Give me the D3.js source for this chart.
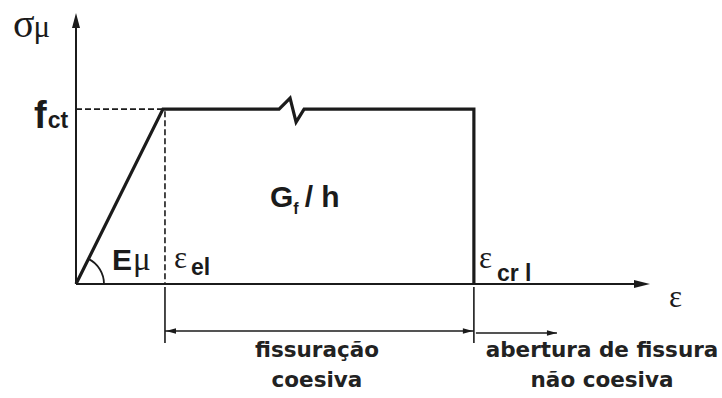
<!DOCTYPE html>
<html>
<head>
<meta charset="utf-8">
<script src="https://cdn.jsdelivr.net/npm/d3@7"></script>
<style>
  html, body { margin: 0; padding: 0; background: #fff; }
  svg { display: block; }
</style>
</head>
<body>
<svg id="chart" width="722" height="398"></svg>
<script>
// Bilinear cohesive softening law (normalised units: strain / ε_el, stress / f_ct)
const curveStrain = [0, 1, 4.575, 4.575];
const curveStress = [0, 1, 1, 0];
const strainMarks = ["el", "cr l"];          // subscripts of the marked strains
const strainMarkValues = [1, 4.575];
const breakStrain = 2.45;                     // position of the break symbol on the plateau
const dimensionEnds = [1, 4.575, 5.53];       // fissuração coesiva | abertura de fissura
const zoneLabels = [["fissuração", "coesiva"], ["abertura de fissura", "não coesiva"]];
const axisMax = { strain: 6.6, stress: 1.55 };

const ink = "#1b1b1b";
const svg = d3.select("#chart");

const x = d3.scaleLinear().domain([0, axisMax.strain]).range([76, 650]);
const y = d3.scaleLinear().domain([0, axisMax.stress]).range([284, 13]);

const g = svg.append("g");

// ---- axes with arrowheads
g.append("line").attr("x1", x(0)).attr("y1", y(0)).attr("x2", x(0)).attr("y2", y(axisMax.stress) + 10)
  .attr("stroke", ink).attr("stroke-width", 2);
g.append("line").attr("x1", x(0)).attr("y1", y(0)).attr("x2", x(axisMax.strain) - 10).attr("y2", y(0))
  .attr("stroke", ink).attr("stroke-width", 2);

function arrowHead(tx, ty, dir, len, half) {
  // dir: unit vector pointing towards the tip
  const bx = tx - dir[0] * len, by = ty - dir[1] * len;
  const px = -dir[1] * half, py = dir[0] * half;
  return `M${tx},${ty}L${bx + px},${by + py}L${bx - px},${by - py}Z`;
}
g.append("path").attr("d", arrowHead(x(0), y(axisMax.stress), [0, -1], 15, 4)).attr("fill", ink);
g.append("path").attr("d", arrowHead(x(axisMax.strain), y(0), [1, 0], 16, 4)).attr("fill", ink);

// ---- dashed guides to f_ct and ε_el
const dash = "6,3";
g.append("line").attr("x1", x(0)).attr("y1", y(1)).attr("x2", x(strainMarkValues[0])).attr("y2", y(1))
  .attr("stroke", ink).attr("stroke-width", 1.6).attr("stroke-dasharray", dash);
g.append("line").attr("x1", x(strainMarkValues[0]) + 2).attr("y1", y(1) + 2).attr("x2", x(strainMarkValues[0]) + 2).attr("y2", y(0))
  .attr("stroke", ink).attr("stroke-width", 1.6).attr("stroke-dasharray", dash);

// ---- the constitutive curve, with a break mark on the plateau
const bx = x(breakStrain), by = y(1);
const pts = curveStrain.map((s, i) => [x(s), y(curveStress[i])]);
const p = d3.path();
p.moveTo(pts[0][0], pts[0][1]);
p.lineTo(pts[1][0], pts[1][1]);
p.lineTo(bx - 10, by);
p.lineTo(bx + 1, by - 11);
p.lineTo(bx + 7, by + 13);
p.lineTo(bx + 15, by);
p.lineTo(pts[2][0], pts[2][1]);
p.lineTo(pts[3][0], pts[3][1]);
g.append("path").attr("d", p.toString()).attr("fill", "none").attr("stroke", ink)
  .attr("stroke-width", 3.2).attr("stroke-linejoin", "miter");

// ---- angle arc for the elastic modulus
const ang = Math.atan2(pts[1][1] - pts[0][1], pts[1][0] - pts[0][0]);
const arc = d3.path();
arc.moveTo(x(0) + 28, y(0));
arc.arc(x(0), y(0), 28, 0, ang, true);
g.append("path").attr("d", arc.toString()).attr("fill", "none").attr("stroke", ink).attr("stroke-width", 1.8);

// ---- dimension lines below the axis
const dimY = 331;
[x(strainMarkValues[0]) + 2, x(strainMarkValues[1])].forEach(px => {
  g.append("line").attr("x1", px).attr("y1", y(0) + 3).attr("x2", px).attr("y2", 343)
    .attr("stroke", ink).attr("stroke-width", 1.6);
});
const d0 = x(dimensionEnds[0]) + 2, d1 = x(dimensionEnds[1]), d2 = x(dimensionEnds[2]);
g.append("line").attr("x1", d0).attr("y1", dimY).attr("x2", d1).attr("y2", dimY).attr("stroke", ink).attr("stroke-width", 1.5);
g.append("path").attr("d", arrowHead(d0 + 1, dimY, [-1, 0], 10, 2.8)).attr("fill", ink);
g.append("path").attr("d", arrowHead(d1 - 1, dimY, [1, 0], 10, 2.8)).attr("fill", ink);
g.append("line").attr("x1", d1 + 2).attr("y1", dimY + 2).attr("x2", d2).attr("y2", dimY + 2).attr("stroke", ink).attr("stroke-width", 1.5);
g.append("path").attr("d", arrowHead(d2, dimY + 2, [1, 0], 10, 2.8)).attr("fill", ink);

// ---- labels
const sans = "'Liberation Sans', Arial, sans-serif";
const serif = "'Liberation Serif', 'Times New Roman', serif";
const wide = "'DejaVu Sans', Verdana, sans-serif";

// σμ
const t1 = g.append("text").attr("x", 13).attr("y", 37).attr("fill", ink);
t1.append("tspan").attr("font-family", serif).attr("font-size", 40).text("σ");
t1.append("tspan").attr("font-family", serif).attr("font-size", 31).attr("dx", -1).text("μ");

// f_ct
const t2 = g.append("text").attr("x", 34).attr("y", 128).attr("fill", ink).attr("font-family", sans).attr("font-weight", "bold");
t2.append("tspan").attr("font-size", 38).text("f");
t2.append("tspan").attr("font-size", 23).attr("dx", 1).text("ct");

// Eμ
const t3 = g.append("text").attr("x", 112).attr("y", 270).attr("fill", ink);
t3.append("tspan").attr("font-family", sans).attr("font-weight", "bold").attr("font-size", 30).text("E");
t3.append("tspan").attr("font-family", serif).attr("font-size", 33).attr("dx", 1).text("μ");

// ε_el and ε_cr l
strainMarkValues.forEach((s, i) => {
  const px = x(s) + (i === 0 ? 11 : 5);
  const t = g.append("text").attr("x", px).attr("y", 268).attr("fill", ink);
  t.append("tspan").attr("font-family", serif).attr("font-size", 31).text("ε");
  t.append("tspan").attr("font-family", sans).attr("font-weight", "bold").attr("font-size", 23)
    .attr("dx", i === 0 ? 4 : 5).attr("dy", i === 0 ? 7 : 13).text(strainMarks[i]);
});

// x axis symbol
g.append("text").attr("x", 669).attr("y", 307).attr("fill", ink)
  .attr("font-family", serif).attr("font-size", 31).text("ε");

// G_f / h
const t4 = g.append("text").attr("x", 270).attr("y", 207).attr("fill", ink).attr("font-family", sans).attr("font-weight", "bold");
t4.append("tspan").attr("font-size", 30).text("G");
t4.append("tspan").attr("font-size", 16).attr("dx", 0).attr("dy", 7).text("f");
t4.append("tspan").attr("font-size", 30).attr("dx", 6).attr("dy", -7).text("/ h");

// zone captions
const zoneCentres = [317, 602];
zoneLabels.forEach((lines, i) => {
  lines.forEach((line, j) => {
    g.append("text").attr("x", zoneCentres[i]).attr("y", 357 + j * 30)
      .attr("text-anchor", "middle").attr("fill", "#222")
      .attr("font-family", wide).attr("font-weight", "bold").attr("font-size", 21.5).text(line);
  });
});
</script>
</body>
</html>
